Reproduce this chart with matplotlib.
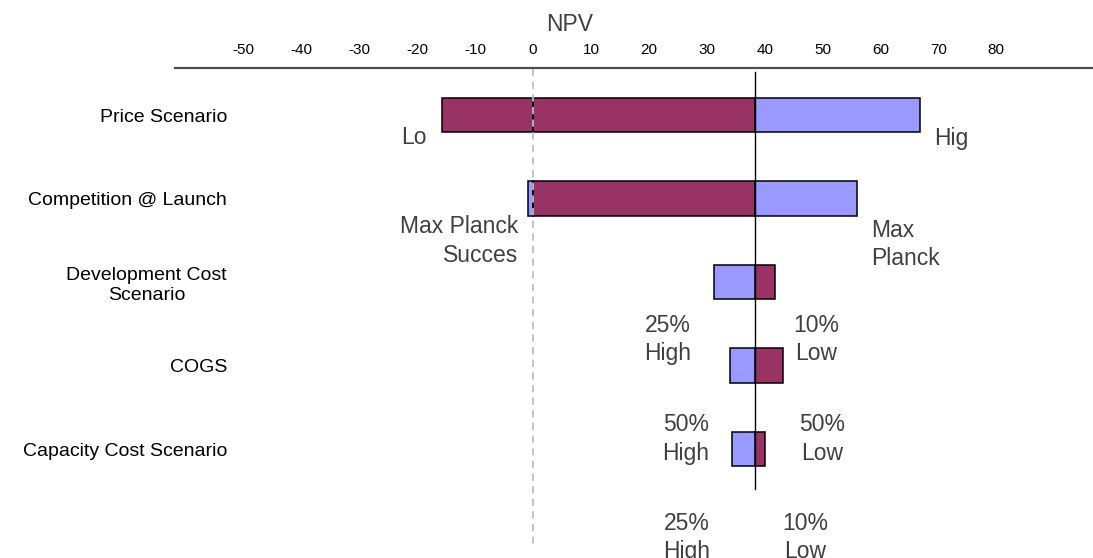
import matplotlib
matplotlib.use("Agg")
import matplotlib.pyplot as plt
from matplotlib.lines import Line2D

plt.rcParams["font.family"] = ["Liberation Sans", "DejaVu Sans"]
plt.rcParams["axes.unicode_minus"] = False

# ---- data -------------------------------------------------------------
categories = ["Price Scenario", "Competition @ Launch",
              "Development Cost\nScenario", "COGS", "Capacity Cost Scenario"]
base_npv = 38.4
low_npv = [-15.7, -0.8, 41.7, 43.1, 40.1]    # NPV under the "low" case
high_npv = [66.8, 55.9, 31.2, 34.1, 34.4]    # NPV under the "high" case
low_labels = ["Lo", "Max Planck\nSucces", "10%\nLow", "50%\nLow", "10%\nLow"]
high_labels = ["Hig", "Max\nPlanck", "25%\nHigh", "50%\nHigh", "25%\nHigh"]
x_ticks = list(range(-50, 90, 10))

# ---- styling ----------------------------------------------------------
MAROON = "#993366"
BLUE = "#9999FF"
TEXT_GREY = "#404040"
below_zero_colour = [MAROON, BLUE, None, None, None]
bar_height = 0.41

# label anchors (x in NPV units, y in row units) and alignment
low_label_pos = [(-20.6, 0.13, "center"), (-2.6, 1.20, "right"),
                 (48.9, 2.38, "center"), (49.9, 3.57, "center"),
                 (47.0, 4.75, "center")]
high_label_pos = [(72.3, 0.14, "center"), (58.4, 1.24, "left"),
                  (23.3, 2.38, "center"), (26.4, 3.57, "center"),
                  (26.6, 4.75, "center")]

W, H = 1093, 558
fig = plt.figure(figsize=(W / 100, H / 100), dpi=100)
ax = fig.add_axes([240 / W, 0, 1 - 240 / W, (H - 68) / H])
ax.set_xlim(-50.6, 96.7)
ax.set_ylim(5.305, -0.563)


def draw_segment(y, a, b, colour, neg_colour):
    lo, hi = min(a, b), max(a, b)
    pieces = []
    if lo < 0 < hi:
        pieces.append((lo, 0, neg_colour or colour))
        pieces.append((0, hi, colour))
    else:
        pieces.append((lo, hi, colour))
    for s, e, c in pieces:
        ax.barh(y, e - s, left=s, height=bar_height, color=c,
                edgecolor="black", linewidth=1.1, zorder=3)


for i in range(len(categories)):
    draw_segment(i, base_npv, low_npv[i], MAROON, below_zero_colour[i])
    draw_segment(i, base_npv, high_npv[i], BLUE, None)

# zero reference and base-case line
ax.plot([0, 0], [-0.55, 5.15], color="#bfbfbf", lw=1.3,
        ls=(0, (4, 3)), zorder=4, clip_on=False)
ax.plot([base_npv, base_npv], [-0.515, 4.48], color="black", lw=1.0, zorder=5)

# scenario labels
for txt, (x, y, ha) in zip(low_labels, low_label_pos):
    ax.text(x, y, txt, ha=ha, va="top", fontsize=16.5, color=TEXT_GREY,
            linespacing=1.3, zorder=6)
for txt, (x, y, ha) in zip(high_labels, high_label_pos):
    ax.text(x, y, txt, ha=ha, va="top", fontsize=16.5, color=TEXT_GREY,
            linespacing=1.3, zorder=6)

# axes
ax.xaxis.tick_top()
ax.set_xticks(x_ticks)
ax.set_xticklabels([str(t) for t in x_ticks], fontsize=11)
ax.tick_params(axis="x", length=0, pad=8.2)
ax.set_yticks(range(len(categories)))
ax.set_yticklabels(categories, fontsize=14)
for lab in ax.get_yticklabels():
    lab.set_multialignment("center")
ax.tick_params(axis="y", length=0, pad=9.4)
for sp in ax.spines.values():
    sp.set_visible(False)

fig.add_artist(Line2D([175 / W, 1.0], [1 - 68 / H, 1 - 68 / H],
                      color="#4d4d4d", lw=1.6))
fig.text(570 / W, 1 - 13 / H, "NPV", ha="center", va="top",
         fontsize=16.5, color=TEXT_GREY)

fig.savefig("out.png", dpi=100, facecolor="white")
